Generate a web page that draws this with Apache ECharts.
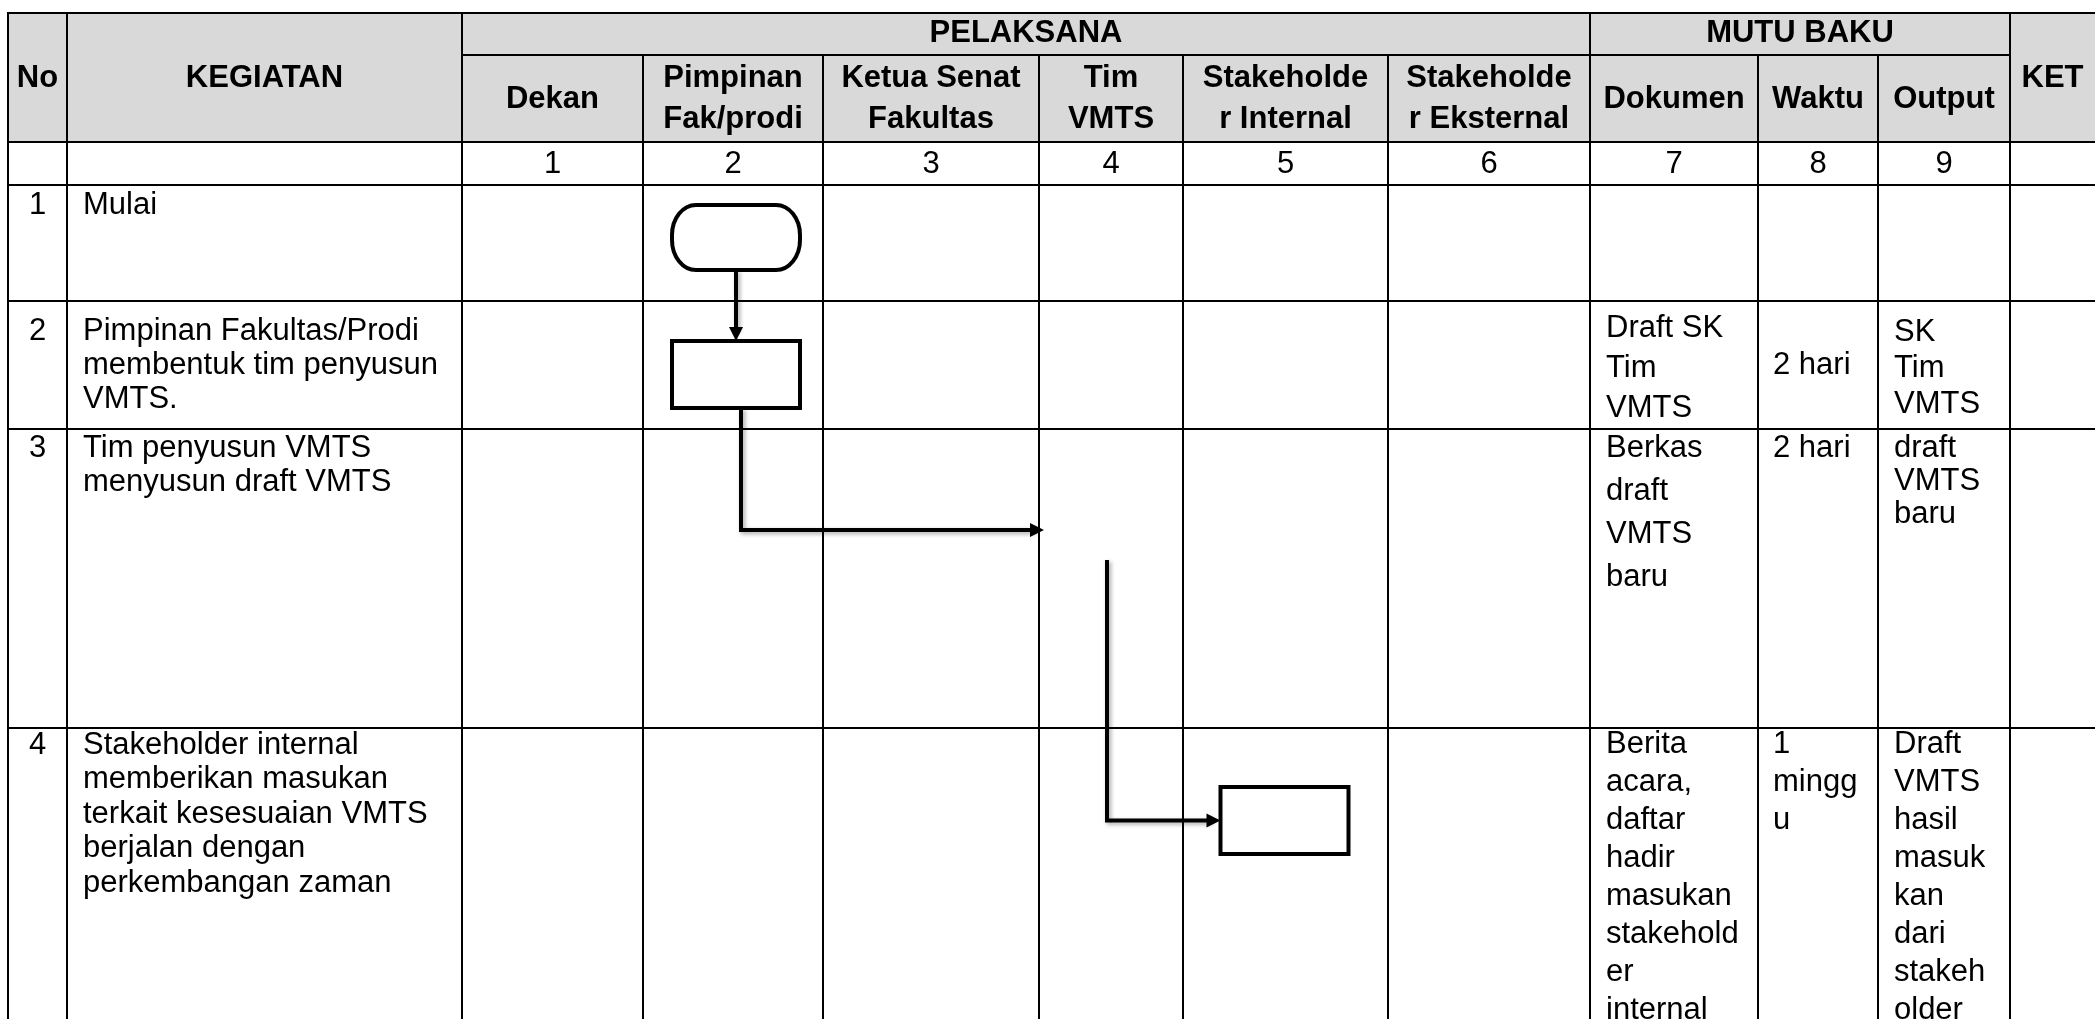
<!DOCTYPE html>
<html>
<head>
<meta charset="utf-8">
<script src="https://cdn.jsdelivr.net/npm/echarts@6/dist/echarts.min.js"></script>
<style>
html,body{margin:0;padding:0;background:#ffffff;}
#chart{width:2095px;height:1019px;}
</style>
</head>
<body>
<div id="chart"></div>
<script>
// ================= DATA =================
const groupHeaders = ['No', 'KEGIATAN', 'PELAKSANA', 'MUTU BAKU', 'KET'];
const laneHeaders = ['Dekan', 'Pimpinan\nFak/prodi', 'Ketua Senat\nFakultas', 'Tim\nVMTS',
  'Stakeholde\nr Internal', 'Stakeholde\nr Eksternal', 'Dokumen', 'Waktu', 'Output'];
const laneNumbers = ['1', '2', '3', '4', '5', '6', '7', '8', '9'];
const stepNumbers = ['1', '2', '3', '4'];
const activities = [
  'Mulai',
  'Pimpinan Fakultas/Prodi\nmembentuk tim penyusun\nVMTS.',
  'Tim penyusun VMTS\nmenyusun draft VMTS',
  'Stakeholder internal\nmemberikan masukan\nterkait kesesuaian VMTS\nberjalan dengan\nperkembangan zaman'
];
const dokumen = ['', 'Draft SK\nTim\nVMTS', 'Berkas\ndraft\nVMTS\nbaru',
  'Berita\nacara,\ndaftar\nhadir\nmasukan\nstakehold\ner\ninternal'];
const waktu = ['', '2 hari', '2 hari', '1\nmingg\nu'];
const output = ['', 'SK\nTim\nVMTS', 'draft\nVMTS\nbaru',
  'Draft\nVMTS\nhasil\nmasuk\nkan\ndari\nstakeh\nolder'];
// flow: lane index (0 = Dekan ... 5 = Stakeholder Eksternal), step index (0..3)
const flowNodes = [
  { shape: 'terminator', lane: 1, step: 0 },
  { shape: 'process', lane: 1, step: 1 },
  { shape: 'process', lane: 4, step: 3 }
];
const flowLinks = [
  { from: 0, to: 1 },
  { from: 1, toLane: 3, toStep: 2 },
  { fromLane: 3, fromStep: 2, to: 2 }
];

// ================= LAYOUT (positions / sizes / styles) =================
const W = 2095, H = 1019;
const L = {
  colEdges: [8, 67, 462, 643, 823, 1039, 1183, 1388, 1590, 1758, 1878, 2010, 2095],
  rowEdges: [13, 55, 142, 185, 301, 429, 728, 1019],
  font: '"Liberation Sans", Arial, sans-serif',
  size: 31,
  gridWidth: 2,
  headerFill: '#d9d9d9',
  headerY: { No: 78, KEGIATAN: 78, PELAKSANA: 33, 'MUTU BAKU': 33, KET: 78 },
  laneHeaderY: 99, laneHeaderLH: 41, laneNumberY: 164.5,
  stepNoFirst: [205, 331, 448, 745],
  body: {
    act: { x: 83, first: [205, 331, 448, 745], lh: [36, 34, 34, 34.5] },
    dok: { x: 1606, first: [0, 328, 448, 744], lh: [36, 40, 43, 38] },
    wkt: { x: 1773, first: [0, null, 448, 744], lh: [36, 36, 36, 38] },
    out: { x: 1894, first: [0, 332, 448, 744], lh: [36, 36, 33, 38] }
  },
  node: { w: 128, dx: [3, 3, -1], top: [20, 40, 59], h: { terminator: 65, process: 67 }, rx: 24, ry: 30, lw: 4 },
  link: { lw: 4, head: 14, headHalf: 7, elbow1: 101, shift1: 5, inset1: 5, start2: 131, shift2: -4 }
};

function laneX0(i) { return L.colEdges[i + 2]; }
function laneX1(i) { return L.colEdges[i + 3]; }
function laneCx(i) { return (laneX0(i) + laneX1(i)) / 2; }
function stepY0(s) { return L.rowEdges[s + 3]; }
function stepY1(s) { return L.rowEdges[s + 4]; }

function nodeBox(k) {
  const n = flowNodes[k];
  const h = L.node.h[n.shape];
  const cx = laneCx(n.lane) + L.node.dx[k];
  const y0 = stepY0(n.step) + L.node.top[k];
  return { cx: cx, x0: cx - L.node.w / 2, y0: y0, w: L.node.w, h: h, y1: y0 + h, cy: y0 + h / 2 };
}

function txt(api, s, x, y, opt) {
  const p = api.coord([x, y]);
  return {
    type: 'text',
    style: {
      text: s, x: p[0], y: p[1], fill: '#000',
      font: (opt.bold ? 'bold ' : '') + L.size + 'px ' + L.font,
      align: opt.align || 'left',
      verticalAlign: opt.va || 'top',
      lineHeight: opt.lh || 36
    }
  };
}

function seg(api, x1, y1, x2, y2, lw) {
  const a = api.coord([x1, y1]), b = api.coord([x2, y2]);
  return { type: 'line', shape: { x1: a[0], y1: a[1], x2: b[0], y2: b[1] },
    style: { stroke: '#000', lineWidth: lw || L.gridWidth } };
}

// ---------- table background + grid ----------
function renderTable(params, api) {
  const ch = [];
  const c = L.colEdges, r = L.rowEdges;
  const a = api.coord([c[0], r[0]]), b = api.coord([W, r[2]]);
  ch.push({ type: 'rect', shape: { x: a[0], y: a[1], width: b[0] - a[0], height: b[1] - a[1] },
    style: { fill: L.headerFill } });
  [r[0], r[2], r[3], r[4], r[5], r[6]].forEach(function (y) { ch.push(seg(api, c[0] - 1, y, W, y)); });
  ch.push(seg(api, c[2], r[1], c[11], r[1]));
  [c[0], c[1], c[2], c[8], c[11]].forEach(function (x) { ch.push(seg(api, x, r[0], x, H)); });
  [c[3], c[4], c[5], c[6], c[7], c[9], c[10]].forEach(function (x) { ch.push(seg(api, x, r[1], x, H)); });
  return { type: 'group', children: ch };
}

// ---------- texts ----------
function renderTexts(params, api) {
  const ch = [];
  const c = L.colEdges;
  const gx = {
    'No': (c[0] + c[1]) / 2, 'KEGIATAN': (c[1] + c[2]) / 2, 'PELAKSANA': (c[2] + c[8]) / 2,
    'MUTU BAKU': (c[8] + c[11]) / 2, 'KET': (c[11] + c[12]) / 2
  };
  groupHeaders.forEach(function (g) {
    ch.push(txt(api, g, gx[g], L.headerY[g], { bold: true, align: 'center', va: 'middle', lh: L.laneHeaderLH }));
  });
  laneHeaders.forEach(function (t, i) {
    ch.push(txt(api, t, laneCx(i), L.laneHeaderY, { bold: true, align: 'center', va: 'middle', lh: L.laneHeaderLH }));
  });
  laneNumbers.forEach(function (t, i) {
    ch.push(txt(api, t, laneCx(i), L.laneNumberY, { align: 'center', va: 'middle', lh: 36 }));
  });
  stepNumbers.forEach(function (t, s) {
    ch.push(txt(api, t, (c[0] + c[1]) / 2, L.stepNoFirst[s] - 18, { align: 'center', lh: 36 }));
  });
  const cols = [['act', activities], ['dok', dokumen], ['wkt', waktu], ['out', output]];
  cols.forEach(function (pair) {
    const cfg = L.body[pair[0]];
    pair[1].forEach(function (t, s) {
      if (!t) return;
      const lh = cfg.lh[s];
      if (cfg.first[s] === null) {
        ch.push(txt(api, t, cfg.x, (stepY0(s) + stepY1(s)) / 2, { va: 'middle', lh: lh }));
      } else {
        ch.push(txt(api, t, cfg.x, cfg.first[s] - lh / 2, { va: 'top', lh: lh }));
      }
    });
  });
  return { type: 'group', children: ch };
}

// ---------- flow ----------
function arrowHead(api, tip, dir) {
  const h = L.link.head, w = L.link.headHalf;
  let pts;
  if (dir === 'down') pts = [[tip[0], tip[1]], [tip[0] - w, tip[1] - h], [tip[0] + w, tip[1] - h]];
  else pts = [[tip[0], tip[1]], [tip[0] - h, tip[1] - w], [tip[0] - h, tip[1] + w]];
  return { type: 'polygon', shape: { points: pts.map(function (p) { return api.coord(p); }) },
    style: { fill: '#000' } };
}
function polyl(api, pts) {
  return { type: 'polyline', shape: { points: pts.map(function (p) { return api.coord(p); }) },
    style: { stroke: '#000', lineWidth: L.link.lw, fill: null, lineJoin: 'miter',
      shadowBlur: 4, shadowColor: 'rgba(0,0,0,0.35)', shadowOffsetX: 2, shadowOffsetY: 2 } };
}
function terminatorPath(x0, y0, w, h) {
  const rx = L.node.rx, ry = L.node.ry, x1 = x0 + w, y1 = y0 + h;
  return 'M' + (x0 + rx) + ' ' + y0 + ' L' + (x1 - rx) + ' ' + y0 +
    ' A' + rx + ' ' + ry + ' 0 0 1 ' + x1 + ' ' + (y0 + ry) +
    ' L' + x1 + ' ' + (y1 - ry) +
    ' A' + rx + ' ' + ry + ' 0 0 1 ' + (x1 - rx) + ' ' + y1 +
    ' L' + (x0 + rx) + ' ' + y1 +
    ' A' + rx + ' ' + ry + ' 0 0 1 ' + x0 + ' ' + (y1 - ry) +
    ' L' + x0 + ' ' + (y0 + ry) +
    ' A' + rx + ' ' + ry + ' 0 0 1 ' + (x0 + rx) + ' ' + y0 + ' Z';
}
function renderFlow(params, api) {
  const ch = [];
  flowNodes.forEach(function (n, k) {
    const b = nodeBox(k);
    const p = api.coord([b.x0, b.y0]);
    if (n.shape === 'terminator') {
      ch.push({ type: 'path', shape: { pathData: terminatorPath(p[0], p[1], b.w, b.h) },
        style: { fill: '#fff', stroke: '#000', lineWidth: L.node.lw } });
    } else {
      ch.push({ type: 'rect', shape: { x: p[0], y: p[1], width: b.w, height: b.h },
        style: { fill: '#fff', stroke: '#000', lineWidth: L.node.lw } });
    }
  });
  flowLinks.forEach(function (lk) {
    if (lk.from !== undefined && lk.to !== undefined) {
      const a = nodeBox(lk.from), b = nodeBox(lk.to);
      ch.push(polyl(api, [[a.cx, a.y1], [a.cx, b.y0 - 10]]));
      ch.push(arrowHead(api, [a.cx, b.y0], 'down'));
    } else if (lk.from !== undefined) {
      const a = nodeBox(lk.from);
      const x = a.cx + L.link.shift1;
      const ey = stepY0(lk.toStep) + L.link.elbow1;
      const tx = laneX0(lk.toLane) + L.link.inset1;
      ch.push(polyl(api, [[x, a.y1], [x, ey], [tx - 10, ey]]));
      ch.push(arrowHead(api, [tx, ey], 'right'));
    } else {
      const b = nodeBox(lk.to);
      const x = laneCx(lk.fromLane) + L.link.shift2;
      const sy = stepY0(lk.fromStep) + L.link.start2;
      ch.push(polyl(api, [[x, sy], [x, b.cy], [b.x0 - 10, b.cy]]));
      ch.push(arrowHead(api, [b.x0, b.cy], 'right'));
    }
  });
  return { type: 'group', children: ch };
}

const chart = echarts.init(document.getElementById('chart'), null, { renderer: 'canvas' });
chart.setOption({
  animation: false,
  backgroundColor: '#ffffff',
  grid: { left: 0, right: 0, top: 0, bottom: 0 },
  xAxis: { type: 'value', min: 0, max: W, show: false },
  yAxis: { type: 'value', min: 0, max: H, inverse: true, show: false },
  series: [
    { type: 'custom', name: 'table', renderItem: renderTable, data: [[0, 0]], silent: true, z: 1 },
    { type: 'custom', name: 'flow', renderItem: renderFlow, data: [[0, 0]], silent: true, z: 2 },
    { type: 'custom', name: 'text', renderItem: renderTexts, data: [[0, 0]], silent: true, z: 3 }
  ]
});
</script>
</body>
</html>
